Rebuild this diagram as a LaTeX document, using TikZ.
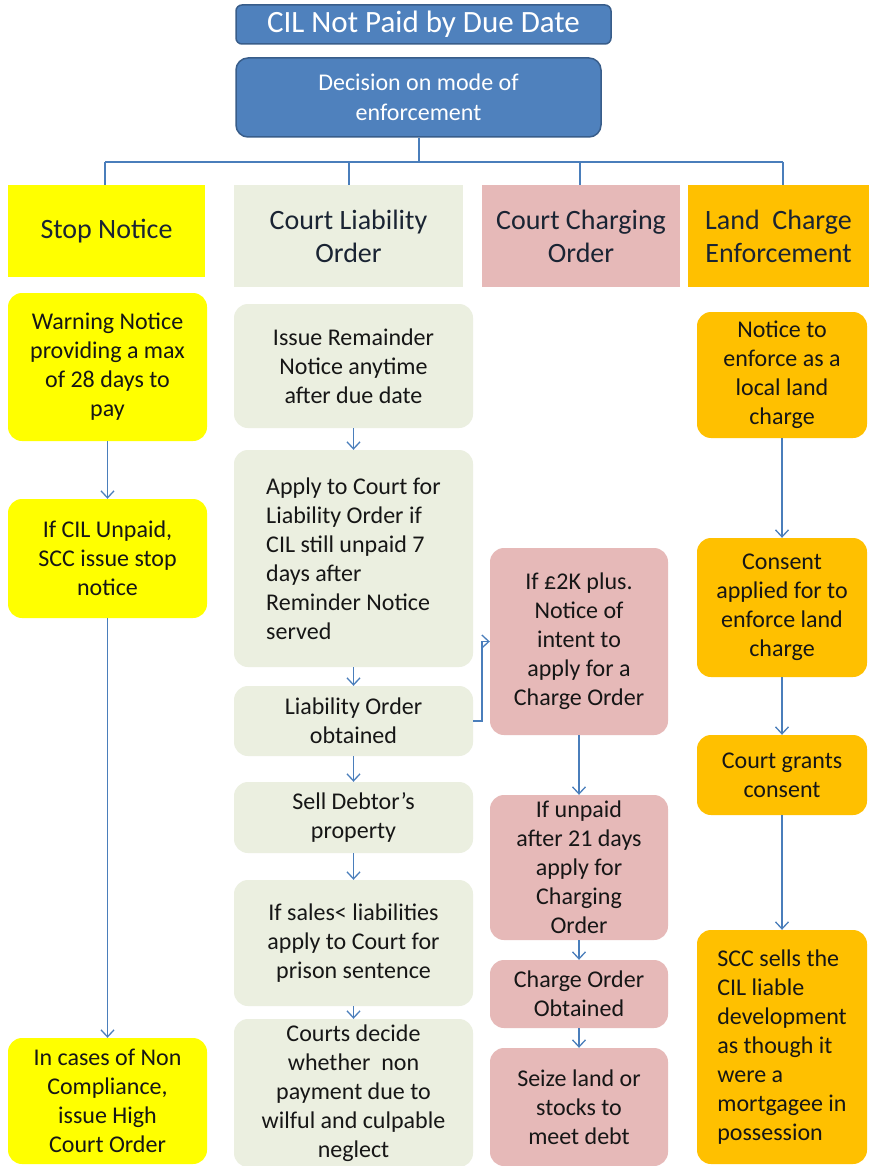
\documentclass[tikz,border=0pt]{standalone}
\usepackage{fontspec}
\setmainfont{Carlito}
\usetikzlibrary{arrows.meta}
\definecolor{bluef}{HTML}{4F81BD}
\definecolor{blued}{HTML}{385D8A}
\definecolor{linec}{HTML}{4A7EBB}
\definecolor{yel}{HTML}{FFFF00}
\definecolor{grn}{HTML}{EBEFE0}
\definecolor{pnk}{HTML}{E6B9B8}
\definecolor{org}{HTML}{FFC000}
\definecolor{txt}{HTML}{161616}
\definecolor{hdtxt}{HTML}{1A2433}
\tikzset{
  body/.style={rounded corners=14pt, inner sep=2pt, align=center, text=txt,
    font=\fontsize{24}{29}\selectfont},
  hdr/.style={rectangle, inner sep=2pt, align=center, text=hdtxt,
    font=\fontsize{28}{33}\selectfont},
  yb/.style={body, fill=yel, minimum width=199pt},
  gb/.style={body, fill=grn, minimum width=239pt},
  pb/.style={body, fill=pnk, minimum width=178pt},
  ob/.style={body, fill=org, minimum width=170pt},
  conn/.style={draw=linec, line width=1.3pt},
  arr/.style={conn, -{Straight Barb[length=7pt,width=13pt,line width=1.3pt]}},
}
\begin{document}
\begin{tikzpicture}[x=1pt,y=-1pt]
\useasboundingbox (0,0) rectangle (869,1166);
\fill[white] (0,0) rectangle (869,1166);

% top
\node[rounded corners=6pt, fill=bluef, draw=blued, line width=1.5pt,
  minimum width=375pt, minimum height=39pt, text=white,
  font=\fontsize{31}{34}\selectfont, inner sep=0pt] (title) at (423.5,24.5) {CIL Not Paid by Due Date};
\node[rounded corners=12pt, fill=bluef, draw=blued, line width=1.5pt,
  minimum width=365pt, minimum height=79pt, text=white, align=center,
  font=\fontsize{24}{30}\selectfont, inner sep=0pt] (dec) at (418.5,97.5) {Decision on mode of\\enforcement};

% headers
\node[hdr, fill=yel, minimum width=197pt, minimum height=92pt] (h1) at (106.5,231) {Stop Notice};
\node[hdr, fill=grn, minimum width=229pt, minimum height=102pt] (h2) at (348.5,236) {Court Liability\\Order};
\node[hdr, fill=pnk, minimum width=198pt, minimum height=102pt] (h3) at (581,236) {Court Charging\\Order};
\node[hdr, fill=org, minimum width=181pt, minimum height=102pt] (h4) at (778.5,236) {Land~ Charge\\Enforcement};

% bus
\coordinate (bus) at (419,162);
\coordinate (b1) at (105,162);
\coordinate (b2) at (349,162);
\coordinate (b3) at (580,162);
\coordinate (b4) at (783,162);
\draw[conn] (dec.south -| bus) -- (bus);
\draw[conn] (b1) -- (b4);
\draw[conn] (b1) -- (b1 |- h1.north);
\draw[conn] (b2) -- (b2 |- h2.north);
\draw[conn] (b3) -- (b3 |- h3.north);
\draw[conn] (b4) -- (b4 |- h4.north);

% column 1
\node[yb, minimum height=148pt] (y1) at (107.5,367) {Warning Notice\\providing a max\\of 28 days to\\pay};
\node[yb, minimum height=119pt] (y2) at (107.5,558.5) {If CIL Unpaid,\\SCC issue stop\\notice};
\node[yb, minimum height=126pt] (y3) at (107.5,1101) {In cases of Non\\Compliance,\\issue High\\Court Order};

% column 2
\node[gb, minimum height=124pt] (g1) at (353.5,366) {Issue Remainder\\Notice anytime\\after due date};
\node[gb, minimum height=217pt, align=left] (g2) at (353.5,558.5) {Apply to Court for\\Liability Order if\\CIL still unpaid 7\\days after\\Reminder Notice\\served};
\node[gb, minimum height=70pt] (g3) at (353.5,721) {Liability Order\\obtained};
\node[gb, minimum height=71pt] (g4) at (353.5,817.5) {Sell Debtor’s\\property};
\node[gb, minimum height=126pt] (g5) at (353.5,943) {If sales< liabilities\\apply to Court for\\prison sentence};
\node[gb, minimum height=148pt] (g6) at (353.5,1093) {Courts decide\\whether~ non\\payment due to\\wilful and culpable\\neglect};

% column 3
\node[pb, minimum height=187pt] (p1) at (579,641.5) {If £2K plus.\\Notice of\\intent to\\apply for a\\Charge Order};
\node[pb, minimum height=145pt] (p2) at (579,867.5) {If unpaid\\after 21 days\\apply for\\Charging\\Order};
\node[pb, minimum height=68pt] (p3) at (579,994) {Charge Order\\Obtained};
\node[pb, minimum height=118pt] (p4) at (579,1107) {Seize land or\\stocks to\\meet debt};

% column 4
\node[ob, minimum height=126pt] (o1) at (782,375) {Notice to\\enforce as a\\local land\\charge};
\node[ob, minimum height=139pt] (o2) at (782,607.5) {Consent\\applied for to\\enforce land\\charge};
\node[ob, minimum height=80pt] (o3) at (782,775) {Court grants\\consent};
\node[ob, minimum height=234pt, align=left] (o4) at (782,1047) {SCC sells the\\CIL liable\\development\\as though it\\were a\\mortgagee in\\possession};

% arrows column 1
\draw[arr] (y1.south) -- (y2.north);
\draw[arr] (y2.south) -- (y3.north);
% column 2
\draw[arr] (g1.south) -- (g2.north);
\draw[arr] (g2.south) -- (g3.north);
\draw[arr] (g3.south) -- (g4.north);
\draw[arr] (g4.south) -- (g5.north);
\draw[arr] (g5.south) -- (g6.north);
% column 3
\coordinate (elbow) at (482,721);
\draw[arr] (g3.east) -- (elbow) |- (p1.west);
\draw[arr] (p1.south) -- (p2.north);
\draw[arr] (p2.south) -- (p3.north);
\draw[arr] (p3.south) -- (p4.north);
% column 4
\draw[arr] (o1.south) -- (o2.north);
\draw[arr] (o2.south) -- (o3.north);
\draw[arr] (o3.south) -- (o4.north);
\end{tikzpicture}
\end{document}
